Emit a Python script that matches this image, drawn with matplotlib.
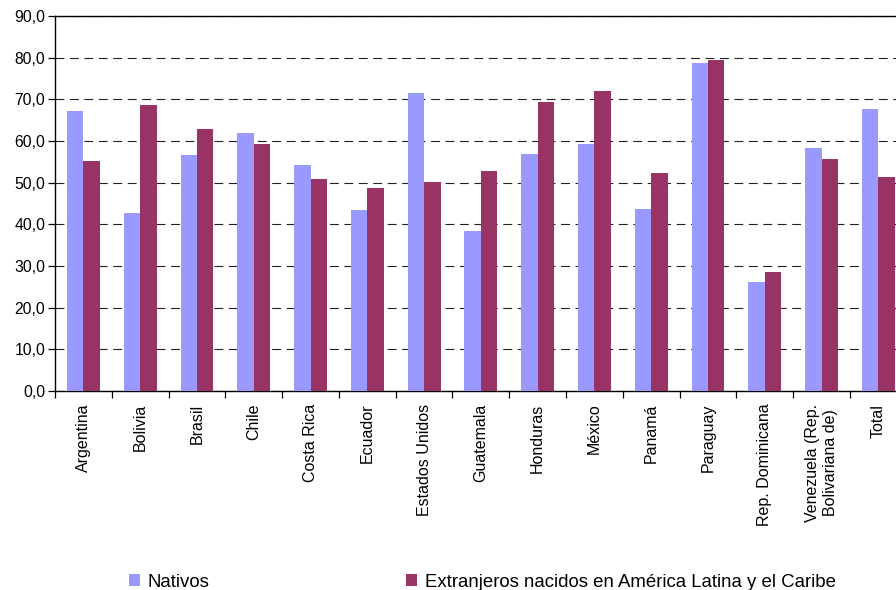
import numpy as np
import matplotlib
matplotlib.use("Agg")
import matplotlib.pyplot as plt
from matplotlib.ticker import FuncFormatter, MultipleLocator

plt.rcParams["font.family"] = ["Liberation Sans", "DejaVu Sans"]

paises = [
    "Argentina", "Bolivia", "Brasil", "Chile", "Costa Rica", "Ecuador",
    "Estados Unidos", "Guatemala", "Honduras", "México", "Panamá",
    "Paraguay", "Rep. Dominicana", "Venezuela (Rep.\nBolivariana de)", "Total",
]
nativos = [67.2, 42.8, 56.7, 62.0, 54.3, 43.5, 71.5, 38.4, 56.9, 59.3,
           43.7, 78.7, 26.2, 58.4, 67.7]
extranjeros = [55.2, 68.7, 62.9, 59.3, 50.9, 48.8, 50.2, 52.8, 69.4, 72.0,
               52.4, 79.5, 28.6, 55.7, 51.4]

COLOR_NAT = "#9999FF"
COLOR_EXT = "#993366"

fig = plt.figure(figsize=(8.96, 5.90), dpi=100)
ax = fig.add_axes([0.0614, 0.337, 1.012 - 0.0614, 0.973 - 0.337])

x = np.arange(len(paises))
ancho = 0.29
ax.bar(x - ancho / 2, nativos, ancho, color=COLOR_NAT, label="Nativos", zorder=3)
ax.bar(x + ancho / 2, extranjeros, ancho, color=COLOR_EXT,
       label="Extranjeros nacidos en América Latina y el Caribe", zorder=3)

ax.set_xlim(-0.5, len(paises) - 0.5)
ax.set_ylim(0, 90)
ax.yaxis.set_major_locator(MultipleLocator(10))
ax.yaxis.set_major_formatter(FuncFormatter(lambda v, _: f"{v:.1f}".replace(".", ",")))
ax.grid(axis="y", color="#222222", linestyle=(0, (8, 5)), linewidth=0.8, zorder=0)
ax.set_axisbelow(True)

ax.set_xticks(x)
ax.set_xticklabels(paises, rotation=90, fontsize=11.5, va="top", ha="center")
ax.set_xticks(np.arange(len(paises) + 1) - 0.5, minor=True)
ax.tick_params(axis="x", which="major", length=0, pad=9)
ax.tick_params(axis="x", which="minor", length=5, direction="out", width=0.9)
ax.tick_params(axis="y", length=5, direction="out", width=0.9, labelsize=11.3, pad=2)

for lado in ["left", "bottom", "top", "right"]:
    ax.spines[lado].set_color("black")
    ax.spines[lado].set_linewidth(1.0)

# leyenda abajo, dos columnas muy separadas
fig.legend(
    loc="center left", bbox_to_anchor=(0.144, 0.013), ncol=2, frameon=False,
    fontsize=13.4, handlelength=0.58, handleheight=0.6, handletextpad=0.4,
    columnspacing=10.6, borderaxespad=0, borderpad=0,
)

fig.savefig("out.png", dpi=100)
